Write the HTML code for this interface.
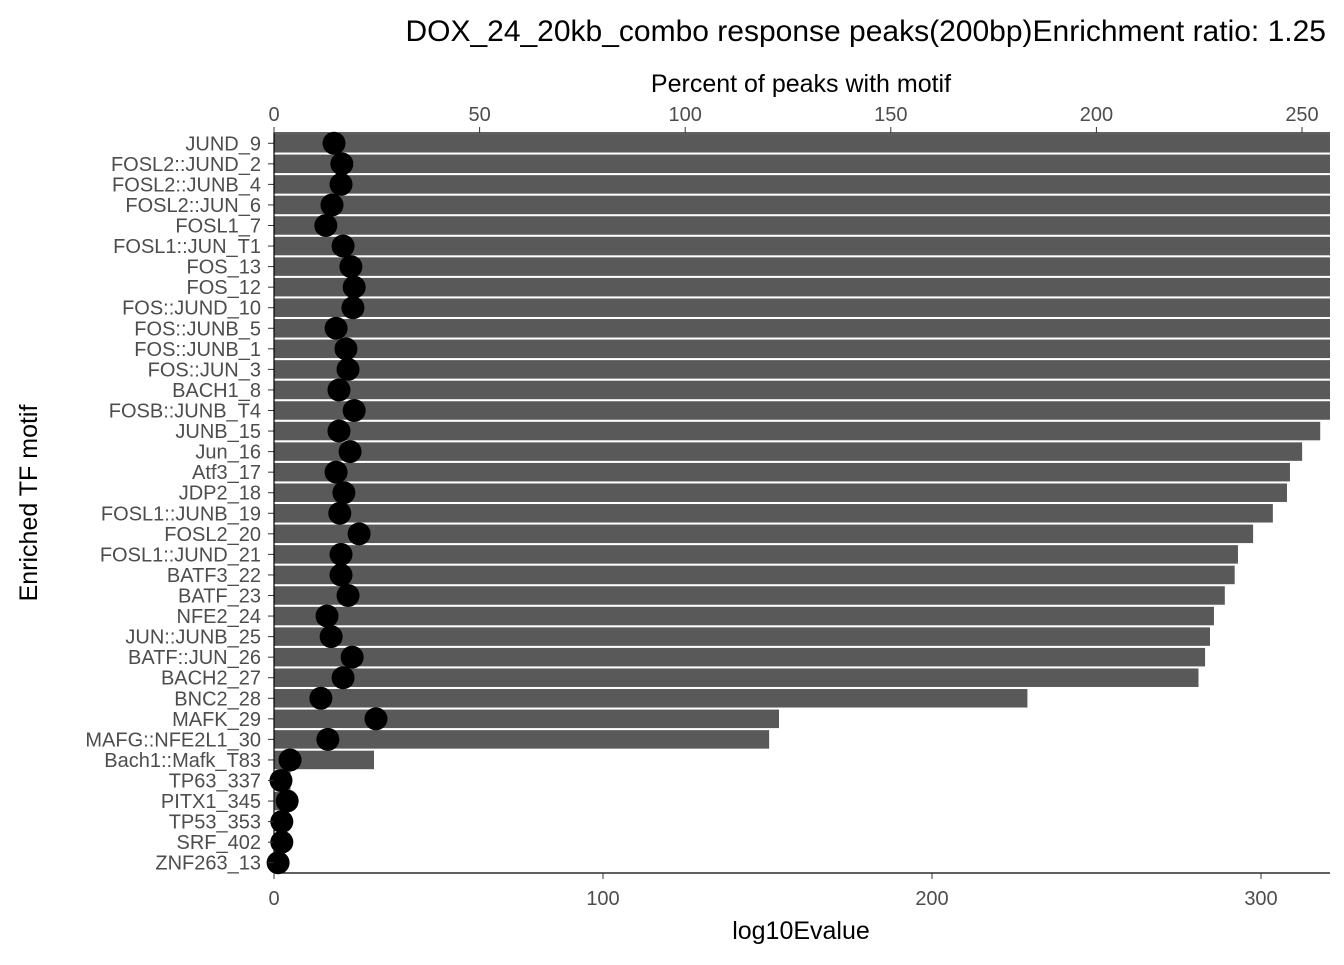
<!DOCTYPE html>
<html><head><meta charset="utf-8"><style>
body{margin:0;background:#fff;font-family:"Liberation Sans",Arial,sans-serif}
svg text{font-family:"Liberation Sans",Arial,sans-serif}
</style></head><body>
<svg id="chart" width="1344" height="960" xmlns="http://www.w3.org/2000/svg">
<text x="1326" y="41" text-anchor="end" font-size="30" fill="#000">DOX_24_20kb_combo response peaks(200bp)Enrichment ratio: 1.25</text>
<text x="801" y="92" text-anchor="middle" font-size="25" fill="#000">Percent of peaks with motif</text>
<text x="801" y="939" text-anchor="middle" font-size="25" fill="#000">log10Evalue</text>
<text transform="translate(37,503) rotate(-90)" text-anchor="middle" font-size="25" fill="#000">Enriched TF motif</text>
<g id="bars"></g><g id="dots"></g><g id="axes"></g>
</svg>
<script>
const motifs=["JUND_9","FOSL2::JUND_2","FOSL2::JUNB_4","FOSL2::JUN_6","FOSL1_7","FOSL1::JUN_T1","FOS_13","FOS_12","FOS::JUND_10","FOS::JUNB_5","FOS::JUNB_1","FOS::JUN_3","BACH1_8","FOSB::JUNB_T4","JUNB_15","Jun_16","Atf3_17","JDP2_18","FOSL1::JUNB_19","FOSL2_20","FOSL1::JUND_21","BATF3_22","BATF_23","NFE2_24","JUN::JUNB_25","BATF::JUN_26","BACH2_27","BNC2_28","MAFK_29","MAFG::NFE2L1_30","Bach1::Mafk_T83","TP63_337","PITX1_345","TP53_353","SRF_402","ZNF263_13"];
const log10Evalue=[340,340,340,340,340,340,340,340,340,340,340,340,340,334,318,312.5,308.8,307.9,303.6,297.6,293,292,289,285.7,284.5,283,281,229,153.5,150.5,30.4,5,5,4,3,1];
const percentPeaks=[14.6,16.5,16.3,14.1,12.6,16.8,18.7,19.5,19.2,15.1,17.5,18,15.8,19.5,15.8,18.5,15.1,17,16,20.7,16.3,16.3,18,12.9,13.9,19,16.8,11.4,24.8,13.1,3.9,1.7,3.2,1.9,1.9,1];
const bottomTicks=[0,100,200,300];
const topTicks=[0,50,100,150,200,250];
const NS="http://www.w3.org/2000/svg";
const L=274,R=1330,T=133,B=873;
const xB=v=>L+v*3.29, xT=v=>L+v*4.112;
const step=(B-T)/motifs.length, yC=i=>T+step*(i+0.5);
function mk(tag,attrs,parent){const e=document.createElementNS(NS,tag);for(const k in attrs)e.setAttribute(k,attrs[k]);parent.appendChild(e);return e;}
const gb=document.getElementById('bars'),gd=document.getElementById('dots'),ga=document.getElementById('axes');
motifs.forEach((m,i)=>{
 const w=Math.min(xB(log10Evalue[i]),R)-L;
 const r=mk('rect',{x:L,y:yC(i)-step*0.45,width:Math.max(w,0),height:step*0.9,fill:'#595959'},gb);
 
 
 const c=mk('circle',{cx:xT(percentPeaks[i]),cy:yC(i),r:11.5,fill:'#000'},gd);
 
 
 const t=mk('text',{x:261,y:yC(i)+7,'text-anchor':'end','font-size':20,fill:'#4d4d4d'},ga);
 t.textContent=m;
 
 
 mk('line',{x1:268,x2:L,y1:yC(i),y2:yC(i),stroke:'#333','stroke-width':1},ga);
});
mk('line',{x1:L,x2:L,y1:T,y2:B,stroke:'#000','stroke-width':1.2},ga);
mk('line',{x1:L,x2:R,y1:B,y2:B,stroke:'#000','stroke-width':1.2},ga);
mk('line',{x1:L,x2:R,y1:T,y2:T,stroke:'#000','stroke-width':1.2},ga);
bottomTicks.forEach(v=>{
 mk('line',{x1:xB(v),x2:xB(v),y1:B,y2:B+6,stroke:'#333'},ga);
 const t=mk('text',{x:xB(v),y:B+32,'text-anchor':'middle','font-size':20,fill:'#4d4d4d'},ga);
 t.textContent=v;
 
 
});
topTicks.forEach(v=>{
 mk('line',{x1:xT(v),x2:xT(v),y1:T-6,y2:T,stroke:'#333'},ga);
 const t=mk('text',{x:xT(v),y:T-12,'text-anchor':'middle','font-size':20,fill:'#4d4d4d'},ga);
 t.textContent=v;
 
 
});
</script>
</body></html>
